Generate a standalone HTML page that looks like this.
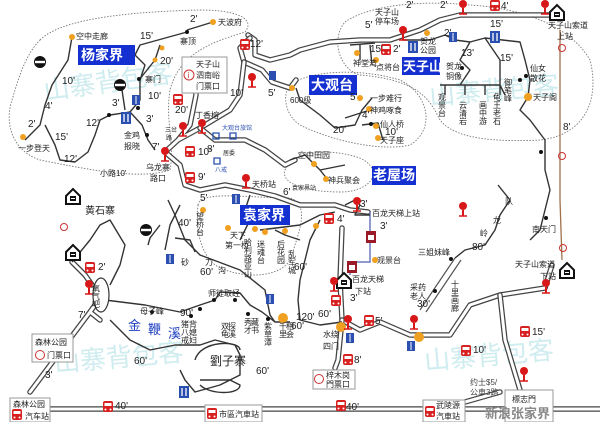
<!DOCTYPE html>
<html><head><meta charset="utf-8">
<style>
html,body{margin:0;padding:0;background:#fff;}
svg{display:block;}
text{font-family:"Liberation Sans","Noto Sans CJK SC",sans-serif;fill:#222;}
.s{font-size:8px;}
.m{font-size:9px;}
.n{font-size:10px;fill:#333;}
.b{font-size:14px;fill:#fff;font-weight:bold;}
.w{font-size:26px;fill:#bfe6ea;opacity:.75;}
.road1{fill:none;stroke:#444;stroke-width:5.5;stroke-linejoin:round;stroke-linecap:round;}
.road2{fill:none;stroke:#fff;stroke-width:3;stroke-linejoin:round;stroke-linecap:round;}
.tr{fill:none;stroke:#333;stroke-width:1.4;stroke-linejoin:round;}
.dot{fill:none;stroke:#777;stroke-width:.9;stroke-dasharray:1.5 1.5;}
</style></head><body>
<svg width="600" height="422" viewBox="0 0 600 422" xmlns="http://www.w3.org/2000/svg">
<defs>
<g id="bus"><rect x="-5" y="-6" width="10" height="11" rx="2" fill="#d82020"/><rect x="-3.5" y="-4" width="7" height="3" fill="#fff"/><circle cx="-2.5" cy="2.5" r="1" fill="#fff"/><circle cx="2.5" cy="2.5" r="1" fill="#fff"/></g>
<g id="pin"><circle cx="0" cy="-4" r="4" fill="#d81818"/><line x1="0" y1="0" x2="0" y2="6" stroke="#d81818" stroke-width="2"/><line x1="-4" y1="6" x2="4" y2="6" stroke="#d81818" stroke-width="1.5"/></g>
<g id="house"><path d="M-7,0 L0,-7 L7,0 L7,8 L-7,8 Z" fill="#fff" stroke="#111" stroke-width="2"/><rect x="-3" y="0" width="6" height="5" fill="#111"/><line x1="-2" y1="2.5" x2="2" y2="2.5" stroke="#fff"/></g>
<g id="no"><circle r="6" fill="#111"/><rect x="-5" y="-1.2" width="10" height="2.4" fill="#fff"/></g>
<g id="wc"><rect x="-4" y="-5" width="8" height="10" fill="#2a4fb0"/><line x1="0" y1="-4" x2="0" y2="4" stroke="#fff"/></g>
<g id="food"><rect x="-5" y="-6" width="10" height="12" fill="#2a4fb0"/><line x1="-2" y1="-4" x2="-2" y2="4" stroke="#fff" stroke-width="1.3"/><line x1="2" y1="-4" x2="2" y2="4" stroke="#fff" stroke-width="1.3"/></g>
<g id="lift"><rect x="-5" y="-6" width="10" height="12" fill="#9a1a2a"/><rect x="-3" y="-2" width="6" height="5" fill="#fff"/></g>
</defs>

<!-- watermarks -->
<text class="w" x="45" y="100" transform="rotate(-8 45 100)">山寨背包客</text>
<text class="w" x="55" y="372" transform="rotate(-5 55 372)">山寨背包客</text>
<text class="w" x="425" y="370" transform="rotate(-5 425 370)">山寨背包客</text>
<text class="w" x="430" y="105" transform="rotate(-5 430 105)">山寨背包客</text>

<!-- dotted region outlines -->
<path class="dot" d="M40,40 C60,20 120,12 200,10 C240,10 255,20 245,32 C220,40 180,50 170,90 C165,120 175,145 170,170 C140,180 90,170 40,160 C10,150 5,120 12,100 C18,80 25,55 40,40 Z"/>
<path class="dot" d="M290,85 C310,70 360,68 400,80 C430,95 435,130 410,145 C380,152 330,140 300,125 C285,115 282,95 290,85 Z"/>
<path class="dot" d="M345,22 C370,5 420,0 470,5 C520,8 570,25 590,60 C600,100 585,135 540,140 C500,142 455,140 440,120 C430,100 420,80 360,75 C340,70 330,40 345,22 Z"/>
<path class="dot" d="M285,170 C295,150 330,148 360,158 C385,170 372,192 340,192 C310,192 280,185 285,170 Z"/>
<path class="dot" d="M198,205 C200,190 250,198 290,198 C310,205 300,230 290,260 C280,278 240,280 215,265 C198,250 196,225 198,205 Z"/>

<!-- double roads -->
<g>
<path class="road1" d="M248,35 L255,40 L255,55 L270,60 L290,55 L300,50 L330,42 L360,40 L390,40 L420,30 L440,20 L460,15 L555,15"/>
<path class="road2" d="M248,35 L255,40 L255,55 L270,60 L290,55 L300,50 L330,42 L360,40 L390,40 L420,30 L440,20 L460,15 L555,15"/>
<path class="road1" d="M250,38 L240,48 L244,62 L262,70 L272,82 L290,88 L296,80"/>
<path class="road2" d="M250,38 L240,48 L244,62 L262,70 L272,82 L290,88 L296,80"/>
<path class="road1" d="M165,152 L180,165 L185,185 L200,190 L225,185 L250,190 L275,196 L300,205 L335,205 L350,210 L368,212"/>
<path class="road2" d="M165,152 L180,165 L185,185 L200,190 L225,185 L250,190 L275,196 L300,205 L335,205 L350,210 L368,212"/>
<path class="road1" d="M165,152 L178,140 L190,125 L196,95 L195,70 M178,140 L200,128 L230,110 L240,95 L244,62"/>
<path class="road2" d="M165,152 L178,140 L190,125 L196,95 L195,70 M178,140 L200,128 L230,110 L240,95 L244,62"/>
<path class="road1" d="M200,128 L215,140 L245,140 L265,150 L285,165 L295,160"/>
<path class="road2" d="M200,128 L215,140 L245,140 L265,150 L285,165 L295,160"/>
<path class="road1" d="M30,392 L90,312 L100,298 M90,312 L100,320"/>
<path class="road2" d="M30,392 L90,312 L100,298 M90,312 L100,320"/>
<path class="road1" d="M72,262 L85,275 L92,285"/>
<path class="road2" d="M72,262 L85,275 L92,285"/>
<path class="road1" d="M342,228 L340,280 L342,320 L360,330 L380,322 L410,335 L450,335 L470,305 L500,295 L545,288 L552,265"/>
<path class="road2" d="M342,228 L340,280 L342,320 L360,330 L380,322 L410,335 L450,335 L470,305 L500,295 L545,288 L552,265"/>
<path class="road1" d="M342,320 L338,360 L335,368 M500,295 L505,340 L520,390"/>
<path class="road2" d="M342,320 L338,360 L335,368 M500,295 L505,340 L520,390"/>
<path class="road1" d="M50,409 L600,409"/>
<path class="road2" d="M50,409 L600,409"/>
<path class="road1" d="M465,402 L500,392"/>
<path class="road2" d="M465,402 L500,392"/>
</g>
<!-- right brown cable line -->
<path d="M560,30 L560,200 L562,260" fill="none" stroke="#a0704a" stroke-width="1.3"/>
<!-- blue lift line -->
<path d="M370,212 L370,262 L350,262 L350,275" fill="none" stroke="#6a78c0" stroke-width="1.5"/>
<!-- ladder 十里画廊 -->
<path d="M420,310 L455,258 M426,312 L461,260" stroke="#555" stroke-width="1.2"/>

<!-- trails -->
<g class="tr">
<path d="M72,37 L68,60 L52,85 L45,105 L40,125 L25,140"/>
<path d="M45,125 L55,145 L60,160 L75,162 L88,152 L95,135 L100,120 L110,115 L130,112 L142,125 L148,140 L155,150"/>
<path d="M187,30 L213,22 M187,32 L140,45 L135,55 L145,65 L140,80 L140,100 L130,112"/>
<path d="M122,90 L125,110"/>
<path d="M139,80 L155,60 L160,45"/>
<path d="M296,88 L300,100 L320,115 L335,128 L355,125 L362,110 L372,98 M345,118 L370,110 M362,125 L378,123 L383,140"/>
<path d="M290,160 L305,155 L320,170 L328,180 M320,170 L345,165"/>
<path d="M403,40 L430,40 L445,35 L455,40 L470,42 L485,38 L500,60 L500,85 L505,95 M470,42 L460,60 L470,70 L460,85 M440,85 L500,85 M445,85 L445,95 M465,85 L465,95 M485,85 L485,95 M500,85 L500,95"/>
<path d="M485,38 L520,42 L525,60 L530,80 L528,97 L520,110 L530,120 L545,140 L545,170 L550,190 L545,210 L540,230 L530,240"/>
<path d="M350,45 L375,43 M360,45 L360,60 M370,45 L372,65 M403,32 L403,40"/>
<path d="M498,185 L510,200 L500,215 L495,230 L485,245 L465,250 L455,258"/>
<path d="M345,205 L355,200 L360,205 L355,215 L370,215"/>
<path d="M250,195 L245,210 L250,220 L240,240 M260,230 L300,225 L320,215 L335,212 M275,230 L285,235 L300,240"/>
<path d="M320,220 L310,240 L300,280 L298,300 L300,320 L320,325 L342,322"/>
<path d="M168,200 L175,215 L185,240 L200,255 L240,270 L265,290 L270,315 L275,322"/>
<path d="M160,225 L150,238 L148,245 M195,252 L190,240 L175,238"/>
<path d="M180,205 L170,225 L165,250"/>
<path d="M105,300 L145,305 L180,312 L200,305 L215,300 L220,292 L240,293 L250,305 L262,312 L275,322 L290,322"/>
<path d="M72,262 L90,240 L100,225 L110,220 L125,245 L120,265 L110,285"/>
<path d="M110,320 L130,340 L150,350 L175,345 L200,345 L215,340 L235,345 L240,355 L240,375 L220,385 L195,392 L185,380 L180,370"/>
<path d="M195,360 C200,340 240,340 240,350 M200,385 C210,395 240,395 240,385 L230,380 L200,380"/>
</g>

<!-- orange spots -->
<g fill="#f0a020">
<circle cx="72" cy="37" r="3"/><circle cx="213" cy="22" r="3"/><circle cx="23" cy="137" r="3"/>
<circle cx="162" cy="48" r="2.5"/><circle cx="155" cy="60" r="2.5"/>
<circle cx="292" cy="88" r="3"/><circle cx="360" cy="98" r="3"/><circle cx="369" cy="109" r="3"/><circle cx="376" cy="126" r="3"/><circle cx="378" cy="138" r="3"/>
<circle cx="427" cy="33" r="3"/><circle cx="357" cy="53" r="3"/><circle cx="376" cy="60" r="3"/><circle cx="528" cy="97" r="4"/>
<circle cx="314" cy="164" r="3"/><circle cx="326" cy="179" r="3"/>
<circle cx="203" cy="210" r="3"/><circle cx="228" cy="228" r="3"/><circle cx="255" cy="229" r="3"/><circle cx="265" cy="232" r="3"/><circle cx="285" cy="231" r="3"/>
<circle cx="316" cy="226" r="3"/><circle cx="375" cy="260" r="3"/>
<circle cx="341" cy="327" r="5"/><circle cx="419" cy="337" r="5"/><circle cx="283" cy="318" r="5"/>
</g>
<!-- black dots -->
<g fill="#111">
<circle cx="187" cy="32" r="2"/><circle cx="139" cy="79" r="2"/><circle cx="147" cy="135" r="2"/><circle cx="109" cy="115" r="2"/><circle cx="138" cy="108" r="2"/>
<circle cx="371" cy="124" r="2"/><circle cx="462" cy="68" r="2"/><circle cx="520" cy="80" r="2"/><circle cx="526" cy="76" r="2"/><circle cx="541" cy="152" r="2"/><circle cx="546" cy="218" r="2"/>
<circle cx="451" cy="259" r="2"/><circle cx="435" cy="291" r="2"/>
<circle cx="152" cy="312" r="2"/><circle cx="191" cy="316" r="2"/><circle cx="200" cy="309" r="2"/><circle cx="214" cy="300" r="2"/><circle cx="235" cy="300" r="2"/><circle cx="248" cy="314" r="2"/><circle cx="268" cy="319" r="2"/>
</g>

<!-- icons -->
<use href="#no" x="40" y="62"/><use href="#no" x="120" y="85"/><use href="#no" x="146" y="230"/>
<use href="#food" x="126" y="118"/><use href="#wc" x="136" y="100"/>
<use href="#bus" x="245" y="45"/><use href="#bus" x="178" y="100"/><use href="#bus" x="190" y="152"/><use href="#bus" x="190" y="178"/>
<use href="#pin" x="252" y="81"/><use href="#pin" x="183" y="130"/><use href="#pin" x="202" y="127"/><use href="#pin" x="165" y="155"/><use href="#pin" x="246" y="182"/>
<rect x="269" y="71" width="7" height="9" fill="#2a4fb0"/>
<path d="M213,133 h6 v6 h-6 z M230,133 h6 v6 h-6 z M214,158 h6 v6 h-6 z" fill="none" stroke="#2a4fb0" stroke-width="1.3"/>
<use href="#pin" x="463" y="8"/><use href="#bus" x="495" y="6"/><use href="#pin" x="545" y="8"/><use href="#house" x="557" y="12"/>
<use href="#pin" x="403" y="34"/><use href="#bus" x="386" y="50"/><use href="#food" x="413" y="47"/><use href="#wc" x="453" y="37"/><use href="#food" x="495" y="37"/>
<use href="#pin" x="463" y="210"/><use href="#pin" x="357" y="205"/><use href="#bus" x="329" y="219"/><use href="#wc" x="236" y="199"/>
<use href="#lift" x="371" y="237"/><use href="#lift" x="352" y="267"/><use href="#house" x="344" y="280"/><use href="#pin" x="334" y="285"/>
<use href="#bus" x="336" y="301"/><use href="#pin" x="348" y="323"/><use href="#wc" x="350" y="338"/><use href="#bus" x="369" y="321"/>
<use href="#pin" x="414" y="323"/><use href="#wc" x="411" y="346"/><use href="#bus" x="466" y="351"/><use href="#bus" x="525" y="332"/>
<use href="#pin" x="546" y="287"/><use href="#house" x="567" y="270"/><use href="#pin" x="524" y="375"/>
<use href="#bus" x="348" y="360"/><use href="#bus" x="341" y="406"/>
<use href="#house" x="73" y="196"/><use href="#house" x="73" y="252"/><use href="#bus" x="90" y="268"/><use href="#pin" x="89" y="288"/>
<use href="#wc" x="170" y="259"/><use href="#wc" x="270" y="299"/><use href="#food" x="184" y="392"/><use href="#bus" x="108" y="407"/>
<circle cx="64" cy="227" r="3.5" fill="none" stroke="#c33" stroke-width="1"/><circle cx="562" cy="48" r="3.5" fill="none" stroke="#c33"/><circle cx="562" cy="156" r="3.5" fill="none" stroke="#c33"/><circle cx="563" cy="248" r="3.5" fill="none" stroke="#c33"/>
<ellipse cx="101" cy="295" rx="8" ry="17" fill="#fff" stroke="#333" stroke-width="1.2"/>

<!-- info boxes -->
<rect x="182" y="57" width="45" height="36" fill="#fff" stroke="#999"/>
<circle cx="189" cy="75" r="5" fill="none" stroke="#c33"/><text x="187.5" y="78" class="s" style="fill:#c33">i</text>
<text x="196" y="67" class="s">天子山</text><text x="196" y="78" class="s">泗南峪</text><text x="196" y="89" class="s">门票口</text>
<rect x="32" y="334" width="41" height="28" fill="#fff" stroke="#999"/>
<text x="35" y="345" class="s">森林公园</text><circle cx="40" cy="355" r="4.5" fill="none" stroke="#c33"/><text x="47" y="358" class="s">门票口</text>
<rect x="10" y="398" width="40" height="24" fill="#fff" stroke="#999"/><use href="#bus" x="17" y="415"/>
<text x="13" y="407" class="s">森林公园</text><text x="25" y="419" class="s">汽车站</text>
<rect x="205" y="405" width="57" height="17" fill="#fff" stroke="#999"/><use href="#bus" x="212" y="414"/><text x="219" y="417" class="s">市區汽車站</text>
<rect x="313" y="370" width="42" height="19" fill="#fff" stroke="#999"/><circle cx="319" cy="379" r="4.5" fill="none" stroke="#c33"/>
<text x="326" y="378" class="s">梓木岗</text><text x="326" y="387" class="s">門票口</text>
<rect x="423" y="400" width="42" height="22" fill="#fff" stroke="#999"/><use href="#bus" x="430" y="412"/>
<text x="436" y="408" class="s">武陵源</text><text x="436" y="419" class="s">汽車站</text>
<rect x="505" y="390" width="48" height="32" fill="#fff" stroke="#999"/><text x="512" y="402" class="s">標志門</text>

<!-- big blue labels -->
<rect x="78" y="45" width="57" height="20" fill="#1530d0"/><text class="b" x="81" y="60">杨家界</text>
<rect x="309" y="75" width="48" height="20" fill="#1530d0"/><text class="b" x="311" y="90">大观台</text>
<rect x="402" y="57" width="38" height="18" fill="#1530d0"/><text class="b" x="403" y="71" style="font-size:13px">天子山</text>
<rect x="372" y="166" width="44" height="19" fill="#1530d0"/><text class="b" x="373" y="180">老屋场</text>
<rect x="240" y="205" width="50" height="20" fill="#1530d0"/><text class="b" x="243" y="220">袁家界</text>
<text x="128" y="330" style="font-size:13px;fill:#2040c0">金</text><text x="148" y="334" style="font-size:13px;fill:#2040c0">鞭</text><text x="168" y="338" style="font-size:13px;fill:#2040c0">溪</text>
<text x="210" y="365" style="font-size:12px">劉子寨</text>

<!-- labels -->
<g class="s">
<text x="218" y="25">天波府</text><text x="180" y="44">寨顶</text><text x="76" y="39">空中走廊</text>
<text x="145" y="82">寨门</text><text x="124" y="138">金鸡</text><text x="124" y="149">报晓</text>
<text x="18" y="151">一步登天</text><text x="100" y="176">小路10'</text><text x="146" y="170">乌龙寨</text><text x="150" y="181">路口</text>
<text x="195" y="118">丁香榕</text><text x="165" y="132" style="font-size:6px">三岔</text><text x="166" y="140" style="font-size:6px">路</text>
<text x="222" y="130" style="font-size:6px;fill:#2a4fb0">大观台旅馆</text><text x="215" y="172" style="font-size:6px;fill:#2a4fb0">八戒</text><text x="223" y="155" style="font-size:6px">居委</text>
<text x="252" y="187">天桥站</text><text x="292" y="190" style="font-size:6px">袁家界站</text>
<text x="375" y="15">天子山</text><text x="375" y="24">停车场</text>
<text x="420" y="44">贺龙</text><text x="420" y="53">公园</text><text x="353" y="66">神堂湾</text><text x="376" y="70">点将台</text>
<text x="548" y="28">天子山索道</text><text x="557" y="39">上站</text>
<text x="446" y="69">贺龙</text><text x="446" y="79">铜像</text><text x="530" y="71">仙女</text><text x="530" y="81">散花</text>
<text x="508" y="78" style="writing-mode:tb">御笔峰</text><text x="533" y="100">天子阁</text>
<text x="442" y="93" style="writing-mode:tb">观景台</text><text x="463" y="101" style="writing-mode:tb">云清岩</text><text x="483" y="101" style="writing-mode:tb">画中游</text><text x="497" y="93" style="writing-mode:tb">龟王老石</text>
<text x="370" y="101">一步难行</text><text x="370" y="113">神鸡啄食</text><text x="380" y="127">仙人桥</text><text x="380" y="143">天子座</text>
<text x="298" y="158">空中田园</text><text x="328" y="183">神兵聚会</text>
<text x="200" y="212" style="writing-mode:tb">望桥台</text><text x="230" y="238">天下</text><text x="225" y="248">第一桥</text>
<text x="248" y="238" style="writing-mode:tb">哈利路亚山</text><text x="261" y="240" style="writing-mode:tb">迷魂台</text><text x="281" y="240" style="writing-mode:tb">后花园</text>
<text x="292" y="250" style="writing-mode:tb">乱军城</text>
<text x="372" y="216">百龙天梯上站</text><text x="377" y="263">观景台</text><text x="352" y="282">百龙天梯</text><text x="355" y="294">下站</text>
<text x="323" y="337">水绕</text><text x="323" y="349">四门</text>
<text x="505" y="204">队</text><text x="493" y="223">龙</text><text x="480" y="236">岭</text><text x="532" y="232">南天门</text>
<text x="418" y="255">三姐妹峰</text><text x="410" y="290">采药</text><text x="410" y="299">老人</text>
<text x="455" y="280" style="writing-mode:tb">十里画廊</text>
<text x="515" y="267">天子山索道</text><text x="540" y="279">下站</text>
<text x="470" y="385" class="s" style="fill:#444">约士$5/</text><text x="470" y="395" style="fill:#444">公車3路</text>
<text x="85" y="214" style="font-size:10px">黄石寨</text>
<text x="96" y="284" style="writing-mode:tb">氧气吧</text>
<text x="140" y="314">母子峰</text><text x="208" y="296">师徒取经</text><text x="185" y="320" style="writing-mode:tb">猪八戒</text><text x="193" y="320" style="writing-mode:tb">背媳妇</text>
<text x="225" y="322" style="writing-mode:tb">双龟</text><text x="232" y="322" style="writing-mode:tb">探溪</text>
<text x="248" y="318" style="writing-mode:tb">秀才</text><text x="255" y="318" style="writing-mode:tb">藏书</text>
<text x="268" y="322" style="writing-mode:tb">紫草潭</text><text x="283" y="322" style="writing-mode:tb">千里</text><text x="290" y="322" style="writing-mode:tb">相会</text>
<text x="185" y="258" style="writing-mode:tb">砂</text><text x="205" y="265">刀</text><text x="218" y="273">沟</text>
</g>
<!-- time labels -->
<g class="n">
<text x="190" y="22">2'</text><text x="140" y="39">15'</text><text x="160" y="64">20'</text><text x="148" y="99">10'</text><text x="146" y="122">3'</text>
<text x="62" y="84">10'</text><text x="45" y="109">4'</text><text x="28" y="127">2'</text><text x="55" y="140">15'</text><text x="64" y="162">12'</text>
<text x="86" y="126">12'</text><text x="112" y="106">3'</text><text x="152" y="150">7'</text><text x="230" y="96">10'</text><text x="268" y="96">5'</text>
<text x="250" y="47">12'</text><text x="175" y="113">20'</text><text x="198" y="155">10'</text><text x="198" y="180">9'</text><text x="207" y="152">8'</text>
<text x="200" y="201">5'</text><text x="283" y="195">6'</text><text x="290" y="103" style="font-size:8px">600级</text>
<text x="406" y="8">2'</text><text x="440" y="8">2'</text><text x="501" y="9">4'</text><text x="365" y="28">5'</text><text x="444" y="36">2'</text><text x="490" y="27">15'</text>
<text x="370" y="52">15'</text><text x="393" y="52">2'</text><text x="461" y="56">13'</text><text x="500" y="61">15'</text>
<text x="350" y="100">5'</text><text x="362" y="118">4'</text><text x="333" y="133">20'</text><text x="385" y="135">10'</text><text x="563" y="130">8'</text>
<text x="360" y="207">3'</text><text x="337" y="222">4'</text><text x="380" y="229">3'</text><text x="350" y="301">3'</text><text x="375" y="324">5'</text><text x="354" y="363">8'</text>
<text x="473" y="353">10'</text><text x="532" y="335">15'</text><text x="472" y="250">80'</text><text x="417" y="307">30'</text><text x="318" y="317">60'</text>
<text x="178" y="226">40'</text><text x="200" y="275">60'</text><text x="291" y="329">60'</text><text x="296" y="320">120'</text>
<text x="98" y="270">2'</text><text x="78" y="318">7'</text><text x="180" y="316">90'</text><text x="45" y="378">3'</text><text x="134" y="364">60'</text><text x="256" y="374">60'</text>
<text x="115" y="409">40'</text><text x="346" y="410">40'</text><text x="294" y="270">60'</text>
</g>
<text x="485" y="418" style="font-size:13px;fill:#888;font-weight:bold">新浪张家界</text>
</svg>
</body></html>
